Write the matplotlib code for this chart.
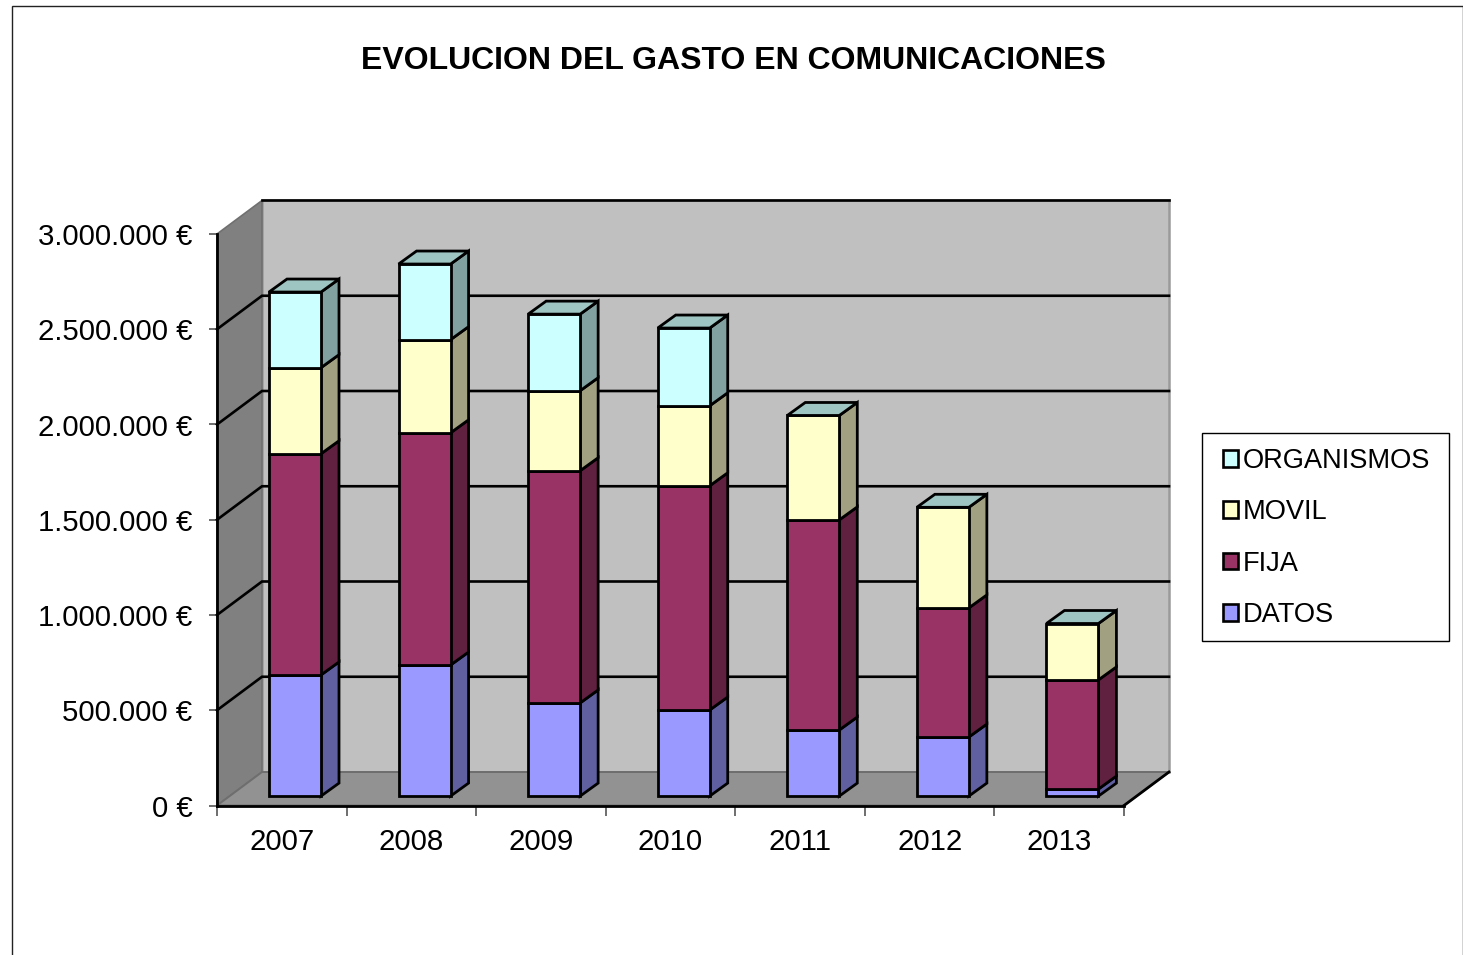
import matplotlib
matplotlib.use("Agg")
import matplotlib.pyplot as plt
from matplotlib.patches import Polygon, Patch, Rectangle
from matplotlib.colors import to_rgb

plt.rcParams['font.family'] = ['Liberation Sans', 'DejaVu Sans']

# data
years = ['2007', '2008', '2009', '2010', '2011', '2012', '2013']
datos = [636000, 688000, 489000, 452000, 347000, 310000, 37000]
fija = [1161000, 1219000, 1219000, 1177000, 1103000, 678000, 573000]
movil = [452000, 489000, 420000, 420000, 548000, 528000, 296000]
organismos = [397000, 397000, 402000, 408000, 0, 0, 0]
y_ticks = [0, 500000, 1000000, 1500000, 2000000, 2500000, 3000000]
series_names = ['DATOS', 'FIJA', 'MOVIL', 'ORGANISMOS']
series_colors = ['#9999FF', '#993366', '#FFFFCC', '#CCFFFF']

W, H = 1463, 955
LEFT, RIGHT, TOP, BOTTOM = 217, 1124, 234, 805.5  # front plane, pixels

fig = plt.figure(figsize=(W / 100, H / 100), dpi=100)
ax = fig.add_axes([LEFT / W, 1 - BOTTOM / H, (RIGHT - LEFT) / W, (BOTTOM - TOP) / H])
ax.set_xlim(0, len(years))
ax.set_ylim(0, 3000000)
ax.patch.set_alpha(0)

# one pixel in data units
px_x = len(years) / (RIGHT - LEFT)
px_y = 3000000 / (BOTTOM - TOP)

wall_dx, wall_dy = 45 * px_x, 33.5 * px_y
bar_dx, bar_dy = 18 * px_x, 13 * px_y
bar_w = 52 * px_x
bar_x0 = 52 * px_x
bar_y0 = 9.4 * px_y


def shade(color, k):
    return tuple(c * k for c in to_rgb(color))


def poly(points, face, edge='black', lw=2.0, z=1):
    ax.add_patch(Polygon(points, closed=True, facecolor=face, edgecolor=edge,
                         linewidth=lw, zorder=z, clip_on=False, joinstyle='miter'))


ymax = 3000000
xmax = len(years)

# walls and floor
poly([(wall_dx, wall_dy), (xmax + wall_dx, wall_dy), (xmax + wall_dx, ymax + wall_dy), (wall_dx, ymax + wall_dy)],
     '#C0C0C0', edge='#9A9A9A', lw=1.8, z=1)
poly([(0, 0), (wall_dx, wall_dy), (wall_dx, ymax + wall_dy), (0, ymax)], '#808080', edge='#707070', lw=1.2, z=1)
poly([(0, 0), (wall_dx, wall_dy), (xmax + wall_dx, wall_dy), (xmax, 0)], '#929292', edge='#6E6E6E', lw=1.4, z=1)

# gridlines run over side wall and back wall
for v in y_ticks[1:-1]:
    ax.plot([0, wall_dx, xmax + wall_dx], [v, v + wall_dy, v + wall_dy], color='black', lw=1.9,
            zorder=2, clip_on=False, solid_joinstyle='miter')
ax.plot([wall_dx, xmax + wall_dx], [ymax + wall_dy, ymax + wall_dy], color='black', lw=1.9, zorder=2, clip_on=False)
ax.plot([xmax, xmax + wall_dx], [0, wall_dy], color='black', lw=2.0, zorder=2, clip_on=False)

# stacked 3d bars
for i in range(len(years)):
    base = bar_y0
    x0 = i + bar_x0
    x1 = x0 + bar_w
    stack = [datos[i], fija[i], movil[i], organismos[i]]
    for val, col in zip(stack, series_colors):
        if val == 0:
            continue
        top = base + val
        poly([(x1, base), (x1 + bar_dx, base + bar_dy), (x1 + bar_dx, top + bar_dy), (x1, top)],
             shade(col, 0.63), z=3)
        poly([(x0, base), (x1, base), (x1, top), (x0, top)], col, z=4)
        base = top
    poly([(x0, base), (x1, base), (x1 + bar_dx, base + bar_dy), (x0 + bar_dx, base + bar_dy)],
         '#9FC5C2', z=4)

# axes
for s in ['top', 'right']:
    ax.spines[s].set_visible(False)
for s in ['left', 'bottom']:
    ax.spines[s].set_linewidth(2.0)
    ax.spines[s].set_zorder(5)

ax.set_yticks(y_ticks)
ax.set_yticklabels([f'{v:,}'.replace(',', '.') + ' €' for v in y_ticks], fontsize=21.2)
ax.tick_params(axis='y', length=6, width=1.2, color='#555555', pad=11.6)
ax.set_xticks(range(len(years) + 1))
ax.set_xticklabels([])
ax.set_xticks([i + 0.5 for i in range(len(years))], minor=True)
ax.set_xticklabels(years, minor=True, fontsize=21.2)
ax.tick_params(axis='x', which='major', length=7, width=1.2, color='#555555')
ax.tick_params(axis='x', which='minor', length=0, pad=16)

fig.text(733 / W, 1 - 61 / H, 'EVOLUCION DEL GASTO EN COMUNICACIONES', fontsize=23, fontweight='bold',
         ha='center', va='center')

# chart frame
fig.add_artist(Rectangle((12 / W, -0.02), 1450.5 / W, 1.02 - 6.5 / H, transform=fig.transFigure,
                         facecolor='none', edgecolor='#222222', linewidth=1.0))

# legend box
fig.add_artist(Rectangle((1201.5 / W, 1 - 641 / H), 247.5 / W, 207.5 / H, transform=fig.transFigure,
                         facecolor='white', edgecolor='black', linewidth=1.0))

# legend, top entry first
handles = [Patch(facecolor=c, edgecolor='black', linewidth=1.9) for c in reversed(series_colors)]
leg = fig.legend(handles, list(reversed(series_names)), loc='upper left', borderaxespad=0, fontsize=19.6,
                 frameon=False, handlelength=0.55, handleheight=0.55,
                 handletextpad=0.18, labelspacing=0.93, borderpad=0)
leg.set_bbox_to_anchor((1223 / W, 1 - 448 / H), transform=fig.transFigure)
leg.set_zorder(10)

fig.savefig('out.png', dpi=100)
